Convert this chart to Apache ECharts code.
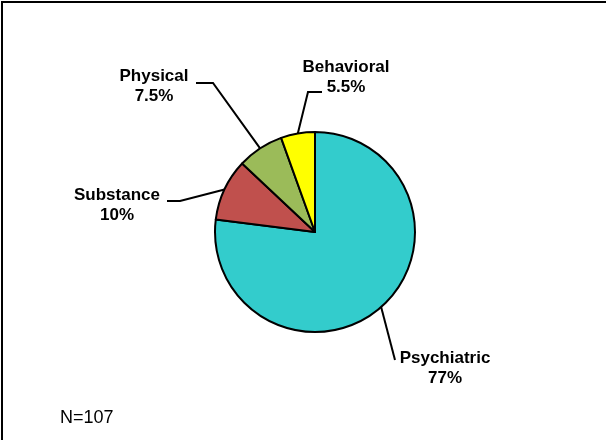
<!DOCTYPE html>
<html>
<head>
<meta charset="utf-8">
<script src="https://cdn.jsdelivr.net/npm/echarts@6/dist/echarts.min.js"></script>
<style>
  html, body { margin: 0; padding: 0; background: #fff; }
  #chart { width: 606px; height: 440px; }
</style>
</head>
<body>
<div id="chart"></div>
<script>
// Share of cases by category (percent), clockwise from 12 o'clock
const categories = ['Psychiatric', 'Substance', 'Physical', 'Behavioral'];
const shares = [77, 10, 7.5, 5.5];
const sliceColors = ['#33CCCC', '#C0504D', '#9BBB59', '#FFFF00'];
const sampleNote = 'N=107';

// Label placement: [labelCenterX, labelCenterY, bendX, bendY, endX, endY]
const labelSpots = [
  [445, 368, 395, 360, 395, 360],
  [117, 205, 180, 201, 167, 201],
  [154, 86, 213, 83, 196, 83],
  [346, 77, 308, 92, 322, 92]
];

const FONT = 'Arial, "Liberation Sans", Helvetica, sans-serif';

const chart = echarts.init(document.getElementById('chart'), null, { renderer: 'canvas' });

chart.setOption({
  backgroundColor: '#ffffff',
  animation: false,
  title: {
    text: sampleNote,
    left: 60,
    top: 409,
    padding: 0,
    textStyle: { fontFamily: FONT, fontSize: 18, fontWeight: 'normal', color: '#000' }
  },
  graphic: [{
    type: 'polyline',
    shape: { points: [[2, 440], [2, 2], [606, 2]] },
    style: { stroke: '#000', lineWidth: 2, fill: null }
  }],
  series: [{
    type: 'pie',
    center: [315, 232],
    radius: [0, 100],
    startAngle: 90,
    clockwise: true,
    avoidLabelOverlap: false,
    data: categories.map((name, i) => ({
      name,
      value: shares[i],
      itemStyle: { color: sliceColors[i] }
    })),
    itemStyle: { borderColor: '#000', borderWidth: 2 },
    emphasis: { disabled: true },
    label: {
      show: true,
      position: 'outside',
      formatter: p => p.name + '\n' + p.value + '%',
      fontFamily: FONT,
      fontSize: 17,
      fontWeight: 'bold',
      lineHeight: 20,
      color: '#000',
      align: 'center'
    },
    labelLine: {
      show: true,
      length: 10,
      length2: 10,
      lineStyle: { color: '#000', width: 2 }
    },
    labelLayout: params => {
      const s = labelSpots[params.dataIndex];
      const start = params.labelLinePoints ? params.labelLinePoints[0] : [s[2], s[3]];
      return {
        x: s[0],
        y: s[1],
        align: 'center',
        verticalAlign: 'middle',
        labelLinePoints: [start, [s[2], s[3]], [s[4], s[5]]]
      };
    }
  }]
});
</script>
</body>
</html>
